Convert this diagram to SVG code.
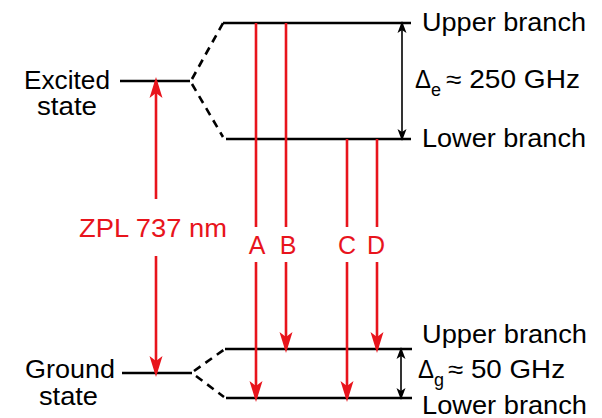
<svg xmlns="http://www.w3.org/2000/svg" width="602" height="418" viewBox="0 0 602 418">
<style>
text{font-family:"Liberation Sans",Arial,Helvetica,sans-serif;font-size:25px;fill:#000}
.r{fill:#e8141c}
.lv{stroke:#000;stroke-width:2.6;fill:none}
.ds{stroke:#000;stroke-width:2.6;fill:none;stroke-dasharray:8 6}
.ra{stroke:#e8141c;stroke-width:2.6;fill:none}
.ba{stroke:#000;stroke-width:1.6;fill:none}
</style>
<defs>
<marker id="rh" viewBox="-22 -8 24 16" refX="-4" refY="0" markerWidth="24" markerHeight="16" markerUnits="userSpaceOnUse" orient="auto-start-reverse">
<path d="M0,0 L-21,-6.5 L-16,0 L-21,6.5 Z" fill="#e8141c"/>
</marker>
<marker id="bh" viewBox="-14 -6 16 12" refX="-3" refY="0" markerWidth="16" markerHeight="12" markerUnits="userSpaceOnUse" orient="auto-start-reverse">
<path d="M0,0 L-12,-4.5 L-9,0 L-12,4.5 Z" fill="#000"/>
</marker>
</defs>

<g id="excited-state">
<line class="lv" x1="120" y1="81" x2="190" y2="81"/>
<text x="24" y="89" textLength="86" lengthAdjust="spacingAndGlyphs">Excited</text>
<text x="37" y="115" textLength="60" lengthAdjust="spacingAndGlyphs">state</text>
</g>
<g id="excited-upper">
<line class="lv" x1="223" y1="23" x2="411" y2="23"/>
<text x="422" y="31" textLength="164" lengthAdjust="spacingAndGlyphs">Upper branch</text>
</g>
<g id="excited-lower">
<line class="lv" x1="226" y1="139" x2="411" y2="139"/>
<text x="422" y="147" textLength="164" lengthAdjust="spacingAndGlyphs">Lower branch</text>
</g>
<g id="excited-splitting">
<text x="415" y="88" textLength="16" lengthAdjust="spacingAndGlyphs">Δ</text>
<text x="431" y="96" style="font-size:18px">e</text>
<text x="446" y="88" textLength="134" lengthAdjust="spacingAndGlyphs">≈ 250 GHz</text>
</g>

<g id="ground-state">
<line class="lv" x1="122" y1="373" x2="192" y2="373"/>
<text x="25" y="378" textLength="90" lengthAdjust="spacingAndGlyphs">Ground</text>
<text x="39" y="405" textLength="59" lengthAdjust="spacingAndGlyphs">state</text>
</g>
<g id="ground-upper">
<line class="lv" x1="225" y1="349" x2="412" y2="349"/>
<text x="422" y="343" textLength="165" lengthAdjust="spacingAndGlyphs">Upper branch</text>
</g>
<g id="ground-lower">
<line class="lv" x1="226" y1="398" x2="412" y2="398"/>
<text x="422" y="414" textLength="165" lengthAdjust="spacingAndGlyphs">Lower branch</text>
</g>
<g id="ground-splitting">
<text x="418" y="378" textLength="16" lengthAdjust="spacingAndGlyphs">Δ</text>
<text x="434" y="386" style="font-size:18px">g</text>
<text x="448" y="378" textLength="117" lengthAdjust="spacingAndGlyphs">≈ 50 GHz</text>
</g>

<g id="labels">
<text class="r" x="79" y="237" textLength="148" lengthAdjust="spacingAndGlyphs">ZPL 737 nm</text>
<text class="r" x="257" y="254" text-anchor="middle">A</text>
<text class="r" x="288" y="254" text-anchor="middle">B</text>
<text class="r" x="347" y="254" text-anchor="middle">C</text>
<text class="r" x="376" y="254" text-anchor="middle">D</text>
</g>

<g id="connectors">
<path class="ds" d="M192,79 L223,23"/>
<path class="ds" d="M192,84 L223,137"/>
<path class="ds" d="M194,371 L225,349"/>
<path class="ds" d="M196,376 L224,397"/>
<line class="ra" x1="156" y1="199" x2="156" y2="81" marker-end="url(#rh)"/>
<line class="ra" x1="156" y1="256" x2="156" y2="373" marker-end="url(#rh)"/>
<line class="ra" x1="256" y1="23" x2="256" y2="227"/>
<line class="ra" x1="256" y1="262" x2="256" y2="398" marker-end="url(#rh)"/>
<line class="ra" x1="286" y1="23" x2="286" y2="227"/>
<line class="ra" x1="286" y1="262" x2="286" y2="349" marker-end="url(#rh)"/>
<line class="ra" x1="347" y1="139" x2="347" y2="227"/>
<line class="ra" x1="347" y1="262" x2="347" y2="398" marker-end="url(#rh)"/>
<line class="ra" x1="377" y1="139" x2="377" y2="227"/>
<line class="ra" x1="377" y1="262" x2="377" y2="349" marker-end="url(#rh)"/>
<line class="ba" x1="402" y1="24" x2="402" y2="138" marker-start="url(#bh)" marker-end="url(#bh)"/>
<line class="ba" x1="401" y1="350" x2="401" y2="397" marker-start="url(#bh)" marker-end="url(#bh)"/>
</g>
</svg>
